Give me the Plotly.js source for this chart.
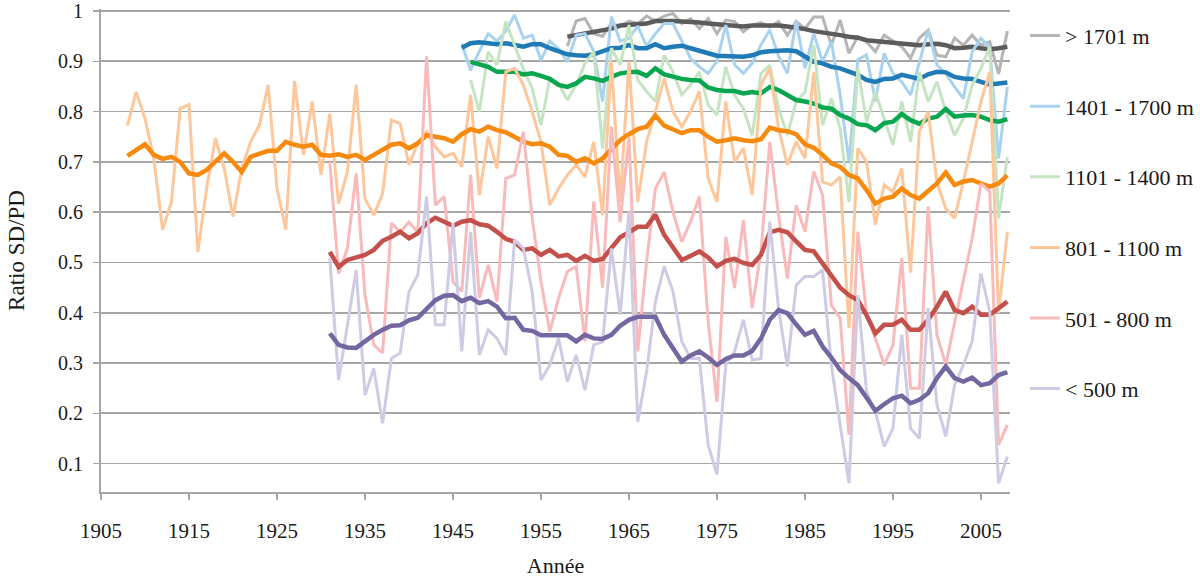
<!DOCTYPE html>
<html>
<head>
<meta charset="utf-8">
<script src="https://cdn.plot.ly/plotly-3.0.1.min.js"></script>
<style>html,body{margin:0;padding:0;background:#fff;}#chart{width:1200px;height:583px;}</style>
</head>
<body>
<div id="chart"></div>
<script>
// Series labels (legend)
const seriesNames = ["> 1701 m", "1401 - 1700 m", "1101 - 1400 m", "801 - 1100 m", "501 - 800 m", "< 500 m"];
// First year of each series
const startYears = [1958, 1946, 1947, 1908, 1931, 1931];

// Annual ratio SD/PD (light lines)
const raw1701 = [.93,.98,.985,.955,.95,.975,.97,.98,.975,.99,
  .98,.99,.995,.975,.985,.965,.985,.955,.982,.979,
  .959,.972,.977,.968,.979,.952,.979,.965,.988,.988,
  .932,.982,.916,.949,.939,.919,.952,.94,.929,.906,
  .946,.962,.912,.909,.946,.932,.952,.932,.939,.875,.96];
const raw1401 = [.935,.882,.92,.955,.94,.96,.992,.946,.952,.902,
  .94,.925,.899,.952,.955,.92,.82,.989,.94,.946,
  .97,.93,.955,.975,.975,.94,.906,.889,.876,.90,
  .972,.893,.876,.896,.933,.962,.91,.876,.979,.886,
  .955,.899,.939,.833,.70,.903,.913,.82,.916,.876,
  .859,.833,.896,.962,.893,.876,.849,.826,.919,.946,
  .926,.707,.849];
const raw1101 = [.863,.80,.919,.893,.979,.932,.885,.846,.773,.866,
  .856,.823,.853,.896,.919,.727,.926,.893,.972,.863,
  .84,.82,.912,.879,.833,.853,.879,.813,.793,.889,
  .833,.806,.753,.876,.892,.806,.753,.82,.839,.932,
  .773,.826,.766,.62,.886,.78,.839,.786,.734,.82,
  .74,.879,.82,.859,.80,.753,.786,.853,.886,.929,
  .588,.71];
const raw801 = [.772,.839,.786,.707,.565,.62,.806,.814,.521,.647,
  .747,.687,.591,.687,.74,.773,.853,.647,.565,.861,
  .714,.82,.674,.796,.617,.68,.853,.627,.594,.637,
  .783,.776,.694,.737,.76,.73,.71,.717,.69,.833,
  .634,.75,.687,.879,.886,.853,.80,.74,.614,.647,
  .674,.694,.67,.74,.594,.90,.62,.90,.62,.74,
  .80,.866,.80,.77,.80,.84,.667,.62,.82,.70,
  .727,.634,.853,.886,.767,.694,.74,.707,.879,.66,
  .654,.67,.37,.727,.70,.575,.654,.64,.687,.48,
  .76,.80,.66,.607,.588,.66,.74,.82,.879,.40,
  .561];
const raw501 = [.70,.478,.528,.677,.435,.336,.32,.578,.561,.58,
  .56,.91,.614,.631,.462,.442,.674,.429,.495,.422,
  .667,.674,.76,.588,.462,.362,.429,.482,.492,.343,
  .621,.45,.77,.58,.75,.323,.502,.647,.68,.601,
  .541,.581,.631,.382,.223,.551,.449,.584,.409,.521,
  .74,.594,.468,.614,.561,.681,.634,.415,.389,.157,
  .561,.396,.349,.296,.336,.508,.25,.25,.611,.356,
  .296,.382,.462,.548,.657,.641,.137,.177];
const raw500 = [.508,.266,.375,.485,.236,.289,.18,.309,.32,.442,
  .475,.631,.376,.376,.578,.323,.561,.316,.366,.349,
  .316,.545,.528,.442,.266,.296,.349,.263,.316,.246,
  .336,.342,.528,.396,.601,.183,.283,.422,.492,.442,
  .343,.309,.309,.137,.078,.296,.323,.386,.306,.309,
  .581,.409,.293,.455,.472,.472,.485,.296,.177,.061,
  .435,.243,.203,.134,.17,.356,.17,.15,.409,.217,
  .154,.256,.296,.343,.478,.402,.061,.114];

// Smoothed ratio (dark lines)
const smooth1701 = [.949,.952,.955,.959,.962,.965,.971,.972,.973,.975,
  .98,.981,.98,.979,.979,.977,.975,.973,.972,.971,
  .969,.971,.971,.972,.971,.969,.967,.964,.96,.958,
  .955,.952,.949,.947,.942,.94,.939,.938,.936,.934,
  .932,.934,.935,.932,.926,.927,.929,.926,.924,.926,.929];
const smooth1401 = [.927,.936,.938,.936,.934,.936,.932,.929,.934,.934,
  .926,.92,.914,.912,.911,.914,.919,.926,.927,.932,
  .926,.926,.934,.926,.929,.931,.926,.92,.916,.911,
  .911,.909,.909,.912,.918,.92,.922,.922,.92,.909,
  .899,.896,.889,.886,.879,.873,.863,.859,.865,.866,
  .873,.869,.865,.874,.879,.878,.869,.866,.865,.859,
  .854,.856,.858];
const smooth1101 = [.899,.894,.889,.879,.879,.879,.874,.876,.871,.865,
  .853,.849,.856,.869,.866,.861,.869,.876,.878,.879,
  .871,.886,.874,.869,.865,.863,.862,.848,.843,.841,
  .841,.836,.839,.836,.849,.843,.834,.823,.82,.816,
  .808,.806,.793,.786,.775,.773,.763,.777,.78,.795,
  .783,.776,.786,.79,.805,.79,.792,.793,.79,.783,
  .78,.785];
const smooth801 = [.712,.724,.735,.714,.706,.71,.70,.677,.674,.684,
  .70,.717,.70,.68,.71,.717,.722,.722,.74,.734,
  .73,.734,.714,.712,.715,.71,.714,.704,.714,.724,
  .734,.737,.727,.737,.753,.75,.747,.74,.755,.765,
  .76,.77,.763,.759,.75,.74,.735,.737,.73,.714,
  .712,.70,.707,.697,.707,.724,.743,.755,.765,.77,
  .792,.772,.765,.757,.763,.763,.75,.74,.743,.747,
  .743,.741,.745,.768,.763,.761,.755,.735,.728,.714,
  .697,.69,.674,.667,.644,.617,.627,.631,.647,.634,
  .627,.641,.657,.679,.654,.661,.664,.657,.651,.657,
  .673];
const smooth501 = [.521,.491,.505,.509,.515,.525,.543,.551,.561,.548,
  .558,.578,.589,.581,.573,.581,.584,.576,.573,.561,
  .547,.541,.525,.528,.515,.525,.512,.515,.503,.513,
  .503,.507,.53,.55,.56,.571,.571,.595,.555,.53,
  .505,.513,.522,.51,.492,.503,.507,.499,.495,.515,
  .56,.565,.56,.542,.525,.522,.499,.475,.45,.435,
  .425,.395,.359,.376,.376,.386,.366,.366,.386,.412,
  .442,.405,.399,.412,.396,.396,.409,.422];
const smooth500 = [.359,.336,.331,.33,.343,.356,.366,.374,.375,.385,
  .39,.409,.425,.434,.435,.423,.43,.419,.423,.412,
  .389,.39,.366,.364,.355,.355,.356,.355,.343,.356,
  .349,.348,.356,.374,.386,.392,.392,.392,.356,.329,
  .303,.315,.323,.311,.296,.308,.315,.315,.324,.349,
  .386,.405,.399,.377,.356,.364,.333,.311,.286,.27,
  .256,.231,.205,.218,.23,.235,.22,.227,.24,.27,
  .293,.27,.263,.271,.256,.26,.276,.282];

// Axis ticks
const xTickVals = [1905, 1915, 1925, 1935, 1945, 1955, 1965, 1975, 1985, 1995, 2005];
const yTickVals = [0.1, 0.2, 0.3, 0.4, 0.5, 0.6, 0.7, 0.8, 0.9, 1.0];
const yTickText = ["0.1", "0.2", "0.3", "0.4", "0.5", "0.6", "0.7", "0.8", "0.9", "1"];

const rawSeries = [raw1701, raw1401, raw1101, raw801, raw501, raw500];
const smoothSeries = [smooth1701, smooth1401, smooth1101, smooth801, smooth501, smooth500];
const lightColors = ["#b5b5b5", "#a9d2ef", "#c5e4c2", "#fdc79b", "#f8baba", "#cfcbe4"];
const darkColors = ["#5b5b5b", "#1f7ab6", "#08a64f", "#f68a0e", "#c3504b", "#7467a1"];

function yearsFor(start, n) { const a = []; for (let i = 0; i < n; i++) a.push(start + i); return a; }

const traces = [];
for (let s = 0; s < seriesNames.length; s++) {
  const yrsRaw = yearsFor(startYears[s], rawSeries[s].length);
  const yrsSm = yearsFor(startYears[s], smoothSeries[s].length);
  traces.push({
    type: "scatter", mode: "lines", x: yrsRaw, y: rawSeries[s], name: seriesNames[s],
    line: {color: lightColors[s], width: 3}, legendgroup: "g" + s, legendrank: s + 1,
    hoverinfo: "x+y+name"
  });
  traces.push({
    type: "scatter", mode: "lines", x: yrsSm, y: smoothSeries[s], name: seriesNames[s] + " (moyenne)",
    line: {color: darkColors[s], width: 4.5}, showlegend: false, legendgroup: "g" + s
  });
}

const fontFam = "'Liberation Serif', 'Times New Roman', serif";
const layout = {
  width: 1200, height: 583,
  margin: {l: 101, r: 190, t: 9, b: 91, autoexpand: false},
  paper_bgcolor: "#ffffff", plot_bgcolor: "#ffffff",
  font: {family: fontFam, size: 21, color: "#1a1a1a"},
  showlegend: true,
  legend: {
    x: 1.0165, xanchor: "left", y: 0.988, yanchor: "top",
    font: {family: fontFam, size: 22, color: "#1a1a1a"},
    tracegroupgap: 39, itemwidth: 30, bgcolor: "rgba(0,0,0,0)"
  },
  xaxis: {
    range: [1905, 2008.3], tickvals: xTickVals, ticks: "outside", ticklen: 6, tickwidth: 1.5,
    tickcolor: "#a6a6a6", showline: true, linecolor: "#a6a6a6", linewidth: 2,
    showgrid: false, zeroline: false, ticklabelstandoff: 13, automargin: false,
    ticklabeloverflow: "allow",
    tickfont: {family: fontFam, size: 21, color: "#1a1a1a"},
    title: {text: "Année", standoff: 15, font: {family: fontFam, size: 22, color: "#1a1a1a"}}
  },
  yaxis: {
    range: [0.0435, 1.004], tickvals: yTickVals, ticktext: yTickText,
    ticks: "outside", ticklen: 6, ticklabeloverflow: "allow",
    tickwidth: 1.5, tickcolor: "#a6a6a6", showline: true, linecolor: "#a6a6a6", linewidth: 2,
    showgrid: true, gridcolor: "#a6a6a6", gridwidth: 1.8, zeroline: false, ticklabelstandoff: 6,
    automargin: false,
    tickfont: {family: fontFam, size: 20, color: "#1a1a1a"},
    title: {text: "Ratio SD/PD", standoff: 27, font: {family: fontFam, size: 23, color: "#1a1a1a"}}
  }
};

Plotly.newPlot("chart", traces, layout, {displayModeBar: false, staticPlot: true});
</script>
</body>
</html>
